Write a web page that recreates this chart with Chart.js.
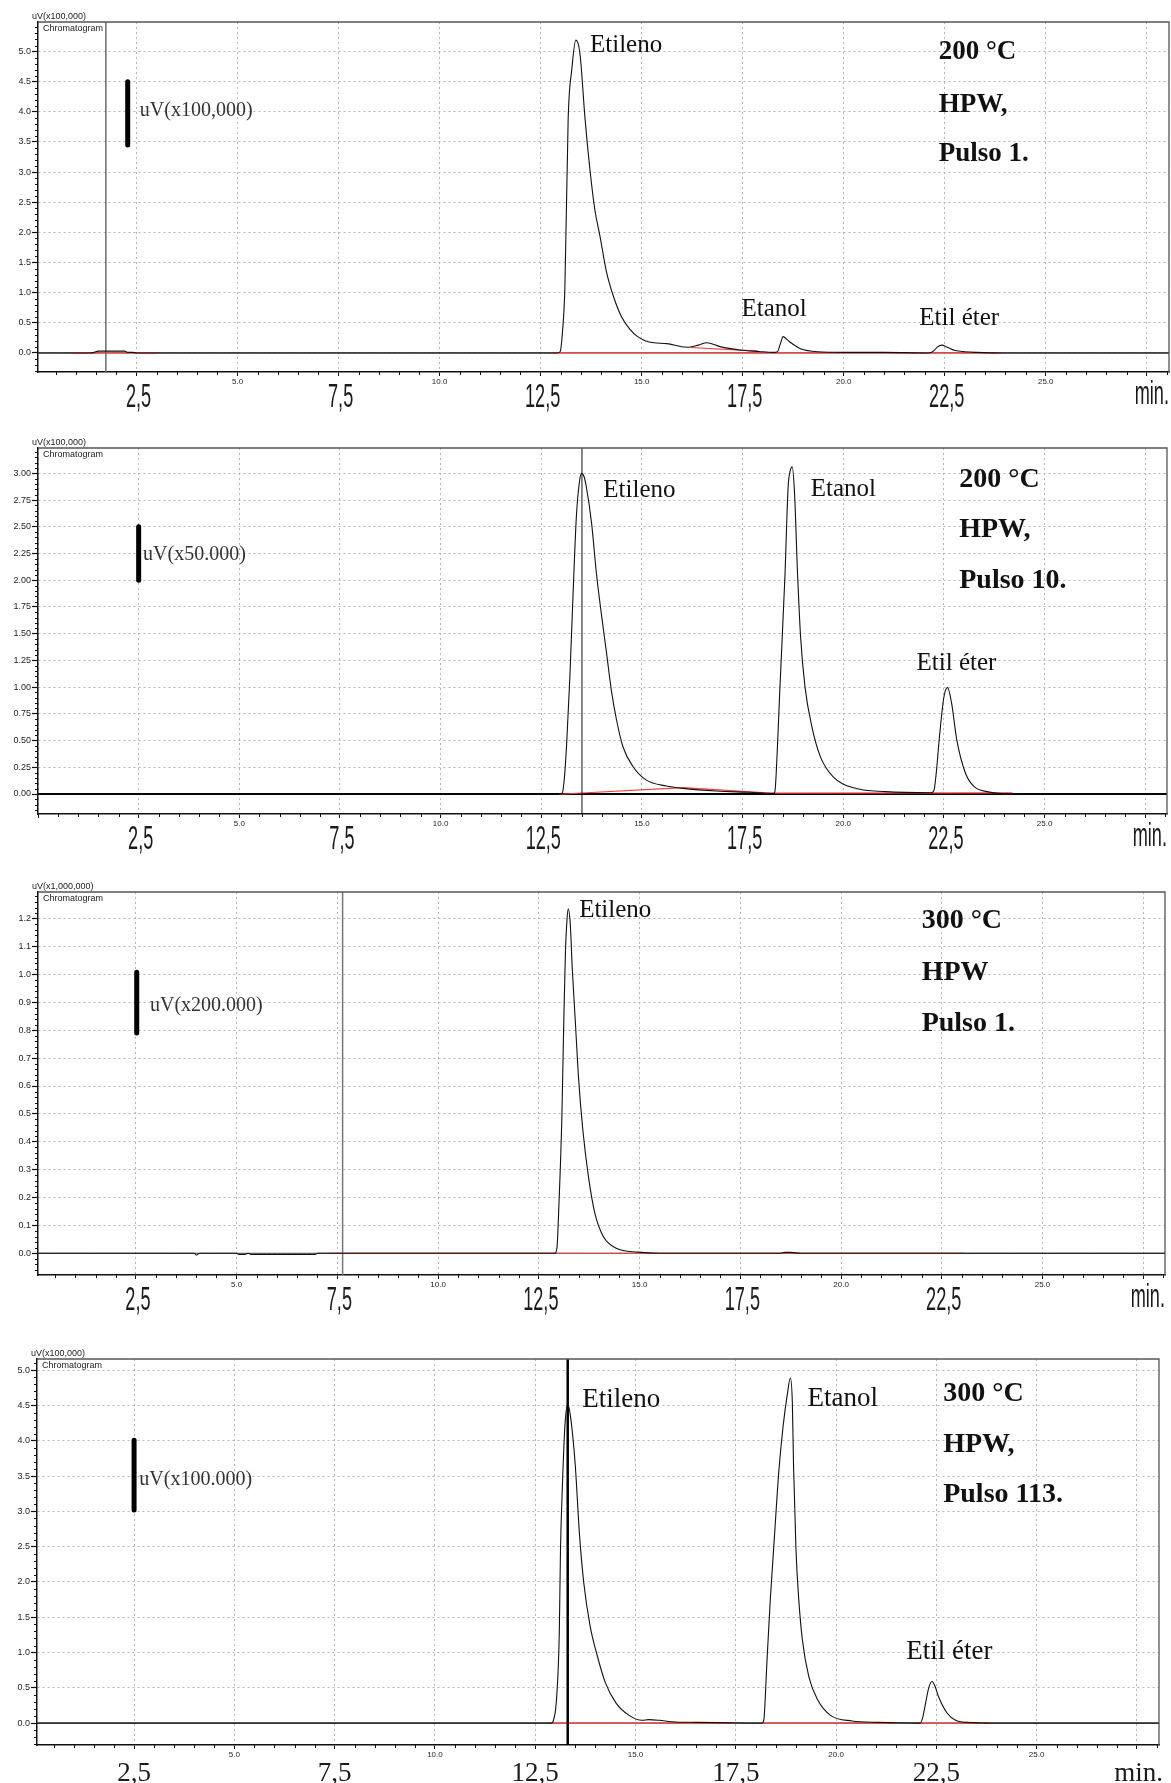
<!DOCTYPE html>
<html>
<head>
<meta charset="utf-8">
<script src="https://cdn.jsdelivr.net/npm/chart.js@4.4.1/dist/chart.umd.min.js"></script>
<style>
html,body{margin:0;padding:0;background:#fff;}
body{width:1171px;height:1783px;position:relative;overflow:hidden;}
canvas{position:absolute;left:0;}
</style>
</head>
<body>
<canvas id="c1" width="1171" height="420" style="top:0px"></canvas>
<canvas id="c2" width="1171" height="445" style="top:425px"></canvas>
<canvas id="c3" width="1171" height="455" style="top:868px"></canvas>
<canvas id="c4" width="1171" height="453" style="top:1330px"></canvas>
<script>
// ---------- shared tick labels ----------
const smallTickValues = [5, 10, 15, 20, 25];
const smallTickLabels = ['5.0', '10.0', '15.0', '20.0', '25.0'];
const bigTickValues = [2.5, 7.5, 12.5, 17.5, 22.5];
const bigTickLabels = ['2,5', '7,5', '12,5', '17,5', '22,5'];
const timeUnit = 'min.';
const peakNames = ['Etileno', 'Etanol', 'Etil éter'];

// ---------- Panel 1 : 200 °C, HPW, Pulso 1 ----------
const p1Unit = 'uV(x100,000)';
const p1Scale = 'uV(x100,000)';
const p1Conditions = ['200 °C', 'HPW,', 'Pulso 1.'];
const p1Time = [0.06, 1.35, 1.45, 1.55, 2.2, 2.28, 2.4, 2.5, 12.9, 12.98, 13.04, 13.1, 13.18, 13.27, 13.37, 13.47, 13.6, 13.72, 13.84, 13.97, 14.13, 14.3, 14.5, 14.7, 14.9, 15.1, 15.3, 15.62, 16.11, 16.4, 16.61, 16.94, 17.43, 17.9, 18.26, 18.36, 18.43, 18.5, 18.6, 18.71, 18.93, 19.35, 20.0, 21.0, 22.1, 22.22, 22.32, 22.43, 22.55, 22.76, 23.0, 23.28, 24.0, 28.05];
const p1Signal = [0, 0, 0.01, 0.03, 0.03, 0.01, 0.01, 0, 0, 0.02, 0.35, 1.1, 3.87, 4.7, 5.19, 4.98, 3.87, 3.04, 2.38, 1.93, 1.34, 0.94, 0.6, 0.4, 0.27, 0.2, 0.17, 0.155, 0.095, 0.13, 0.17, 0.105, 0.05, 0.025, 0.01, 0.02, 0.15, 0.27, 0.22, 0.16, 0.07, 0.02, 0.01, 0.01, 0.0, 0.03, 0.1, 0.13, 0.1, 0.04, 0.02, 0.01, 0, 0];
const p1BaseTime = [0.89, 3.0, 3.0, 12.8, 23.9, 23.9, 16.22, 17.87];
const p1BaseSignal = [0, 0, null, 0, 0, null, 0.09, 0.03];
const p1Marker = 1.74;

// ---------- Panel 2 : 200 °C, HPW, Pulso 10 ----------
const p2Unit = 'uV(x100,000)';
const p2Scale = 'uV(x50.000)';
const p2Conditions = ['200 °C', 'HPW,', 'Pulso 10.'];
const p2Time = [0.0, 12.98, 13.03, 13.08, 13.13, 13.21, 13.29, 13.37, 13.44, 13.5, 13.56, 13.62, 13.75, 13.87, 13.99, 14.12, 14.24, 14.37, 14.53, 14.78, 15.11, 15.61, 16.02, 16.85, 17.68, 18.26, 18.3, 18.36, 18.42, 18.55, 18.63, 18.68, 18.73, 18.79, 18.86, 18.94, 19.05, 19.22, 19.43, 19.75, 20.3, 21.05, 22.18, 22.25, 22.31, 22.39, 22.5, 22.59, 22.69, 22.82, 23.04, 23.25, 23.57, 24.2, 28.04];
const p2Signal = [0, 0, 0.02, 0.18, 0.47, 1.1, 1.88, 2.59, 2.9, 3.0, 2.97, 2.87, 2.53, 2.06, 1.69, 1.32, 0.97, 0.69, 0.44, 0.255, 0.13, 0.075, 0.053, 0.028, 0.016, 0.006, 0.02, 0.4, 0.94, 2.03, 2.87, 3.02, 3.06, 2.81, 2.1, 1.47, 1.0, 0.63, 0.35, 0.16, 0.053, 0.022, 0.012, 0.03, 0.2, 0.54, 0.91, 0.995, 0.85, 0.505, 0.19, 0.069, 0.022, 0, 0];
const p2BaseTime = [12.95, 13.05, 16.02, 18.28, 18.28, 18.3, 24.2];
const p2BaseSignal = [0, 0, 0.06, 0.006, null, 0.008, 0.01];
const p2Marker = 13.51;

// ---------- Panel 3 : 300 °C, HPW, Pulso 1 ----------
const p3Unit = 'uV(x1,000,000)';
const p3Scale = 'uV(x200.000)';
const p3Conditions = ['300 °C', 'HPW', 'Pulso 1.'];
const p3Time = [0.07, 3.95, 4.0, 4.08, 5.0, 5.05, 5.2, 5.3, 5.35, 6.95, 7.0, 12.9, 12.95, 13.0, 13.07, 13.12, 13.16, 13.2, 13.23, 13.28, 13.33, 13.41, 13.48, 13.59, 13.73, 13.89, 14.1, 14.42, 14.96, 15.5, 18.5, 18.6, 18.75, 19.0, 28.04];
const p3Signal = [0, 0, -0.006, 0, 0, -0.004, -0.004, 0, -0.004, -0.004, 0, 0, 0.02, 0.18, 0.48, 0.84, 1.08, 1.2, 1.236, 1.18, 1.02, 0.82, 0.64, 0.445, 0.276, 0.144, 0.06, 0.018, 0.004, 0, 0, 0.003, 0.003, 0, 0];
const p3BaseTime = [7.3, 23.04];
const p3BaseSignal = [0, 0];
const p3Marker = 7.63;

// ---------- Panel 4 : 300 °C, HPW, Pulso 113 ----------
const p4Unit = 'uV(x100,000)';
const p4Scale = 'uV(x100.000)';
const p4Conditions = ['300 °C', 'HPW,', 'Pulso 113.'];
const p4Time = [0.08, 12.9, 12.96, 13.03, 13.1, 13.13, 13.18, 13.24, 13.31, 13.39, 13.5, 13.6, 13.71, 13.87, 14.03, 14.25, 14.52, 14.84, 15.16, 15.33, 15.6, 15.9, 16.55, 18.15, 18.2, 18.27, 18.36, 18.47, 18.57, 18.68, 18.79, 18.86, 18.91, 18.94, 19.0, 19.07, 19.16, 19.32, 19.54, 19.86, 20.4, 21.04, 22.1, 22.16, 22.23, 22.31, 22.39, 22.47, 22.55, 22.77, 22.98, 23.25, 24.0, 28.05];
const p4Signal = [0, 0, 0.05, 0.33, 1.28, 2.46, 3.4, 4.21, 4.52, 4.3, 3.64, 2.7, 1.99, 1.37, 0.99, 0.57, 0.28, 0.11, 0.04, 0.05, 0.04, 0.02, 0.01, 0, 0.05, 0.8, 1.75, 2.7, 3.55, 4.21, 4.68, 4.89, 4.54, 3.64, 2.46, 1.75, 1.18, 0.66, 0.33, 0.11, 0.03, 0.01, 0, 0.08, 0.28, 0.5, 0.59, 0.52, 0.38, 0.14, 0.04, 0.01, 0, 0];
const p4BaseTime = [12.84, 17.4, 17.4, 18.15, 21.5, 21.5, 21.95, 23.82];
const p4BaseSignal = [0, 0, null, 0, 0, null, 0, 0];
const p4Marker = 13.31;

// ---------- layout / style configuration ----------
const SANS = "'Liberation Sans', Arial, sans-serif";
const SERIF = "'Liberation Serif', 'Times New Roman', serif";

const panels = [
  { id: 'c1', height: 420, area: { left: 38, top: 22, right: 1169, bottom: 372 },
    xMin: 0.06, xMax: 28.05, yMin: -0.316, yMax: 5.49, yStep: 0.5, yMinor: 0.1, yDec: 1,
    unit: p1Unit, time: p1Time, signal: p1Signal, baseTime: p1BaseTime, baseSignal: p1BaseSignal,
    marker: { x: p1Marker, color: '#6a6a6a', width: 1.5 }, zero: { color: '#555', width: 1.2 },
    bigStyle: 'condensed', minRight: 0,
    peaks: [{ i: 0, x: 13.72, y: 5.0 }, { i: 1, x: 17.47, y: 0.61 }, { i: 2, x: 21.87, y: 0.47 }],
    peakSize: 25,
    cond: p1Conditions, condX: 22.35, condY: [4.87, 4.0, 3.18], condSize: 27,
    bar: { x: 2.28, y0: 3.45, y1: 4.5, label: p1Scale, lx: 2.58, ly: 4.01 } },
  { id: 'c2', height: 445, area: { left: 38, top: 23, right: 1167, bottom: 389 },
    xMin: 0.0, xMax: 28.04, yMin: -0.187, yMax: 3.237, yStep: 0.25, yMinor: 0.05, yDec: 2,
    unit: p2Unit, time: p2Time, signal: p2Signal, baseTime: p2BaseTime, baseSignal: p2BaseSignal,
    marker: { x: p2Marker, color: '#111', width: 1 }, zero: { color: '#000', width: 2 },
    bigStyle: 'condensed', minRight: 0,
    peaks: [{ i: 0, x: 14.04, y: 2.775 }, { i: 1, x: 19.19, y: 2.79 }, { i: 2, x: 21.82, y: 1.16 }],
    peakSize: 25,
    cond: p2Conditions, condX: 22.88, condY: [2.875, 2.407, 1.93], condSize: 28,
    bar: { x: 2.5, y0: 2.0, y1: 2.5, label: p2Scale, lx: 2.61, ly: 2.236 } },
  { id: 'c3', height: 455, area: { left: 38, top: 24, right: 1165, bottom: 407 },
    xMin: 0.07, xMax: 28.04, yMin: -0.078, yMax: 1.296, yStep: 0.1, yMinor: 0.02, yDec: 1,
    unit: p3Unit, time: p3Time, signal: p3Signal, baseTime: p3BaseTime, baseSignal: p3BaseSignal,
    marker: { x: p3Marker, color: '#777', width: 1.5 }, zero: { color: '#555', width: 1.2 },
    bigStyle: 'condensed', minRight: 0,
    peaks: [{ i: 0, x: 13.5, y: 1.208 }],
    peakSize: 25,
    cond: p3Conditions, condX: 22.0, condY: [1.166, 0.98, 0.796], condSize: 28,
    bar: { x: 2.52, y0: 0.79, y1: 1.008, label: p3Scale, lx: 2.85, ly: 0.887 } },
  { id: 'c4', height: 453, area: { left: 37, top: 29, right: 1159, bottom: 415 },
    xMin: 0.08, xMax: 28.05, yMin: -0.31, yMax: 5.16, yStep: 0.5, yMinor: 0.1, yDec: 1,
    unit: p4Unit, time: p4Time, signal: p4Signal, baseTime: p4BaseTime, baseSignal: p4BaseSignal,
    marker: { x: p4Marker, color: '#000', width: 2.5 }, zero: { color: '#777', width: 1.5 },
    bigStyle: 'serif', minRight: 4,
    peaks: [{ i: 0, x: 13.67, y: 4.48 }, { i: 1, x: 19.29, y: 4.5 }, { i: 2, x: 21.75, y: 0.91 }],
    peakSize: 27,
    cond: p4Conditions, condX: 22.67, condY: [4.56, 3.84, 3.13], condSize: 28,
    bar: { x: 2.5, y0: 3.02, y1: 4.01, label: p4Scale, lx: 2.63, ly: 3.45 } }
];

function pts(xs, ys) { return xs.map((x, i) => ({ x: x, y: ys[i] })); }

const extras = {
  id: 'extras',
  afterDraw(chart, args, opts) {
    const cfg = opts.cfg;
    const ctx = chart.ctx, a = chart.chartArea;
    const xs = chart.scales.x, ys = chart.scales.y;
    ctx.save();
    // frame (top + right)
    ctx.strokeStyle = '#555'; ctx.lineWidth = 1.3;
    ctx.beginPath();
    ctx.moveTo(a.left, a.top); ctx.lineTo(a.right, a.top); ctx.lineTo(a.right, a.bottom);
    ctx.stroke();
    // minor ticks
    ctx.strokeStyle = '#111'; ctx.lineWidth = 1;
    ctx.beginPath();
    for (let k = Math.ceil(cfg.xMin / 0.5); k * 0.5 <= cfg.xMax; k++) {
      if (k % 5 === 0) continue;
      const px = Math.round(xs.getPixelForValue(k * 0.5)) + 0.5;
      ctx.moveTo(px, a.bottom); ctx.lineTo(px, a.bottom + 3);
    }
    const nMinor = Math.round(cfg.yStep / cfg.yMinor);
    for (let k = Math.ceil(cfg.yMin / cfg.yMinor); k * cfg.yMinor <= cfg.yMax; k++) {
      if (k % nMinor === 0) continue;
      const py = Math.round(ys.getPixelForValue(k * cfg.yMinor)) + 0.5;
      ctx.moveTo(a.left - 3, py); ctx.lineTo(a.left, py);
    }
    ctx.stroke();
    // unit label and title
    ctx.fillStyle = '#222';
    ctx.font = '9px ' + SANS;
    ctx.textAlign = 'left'; ctx.textBaseline = 'alphabetic';
    ctx.fillText(cfg.unit, a.left - 6, a.top - 3);
    ctx.fillText('Chromatogram', a.left + 5, a.top + 9);
    // big x labels
    ctx.fillStyle = '#1a1a1a';
    const base = a.bottom + 35;
    if (cfg.bigStyle === 'condensed') {
      ctx.font = '33px ' + SANS;
      ctx.textAlign = 'center';
      bigTickValues.forEach((v, i) => {
        const px = xs.getPixelForValue(v) + 2;
        ctx.save(); ctx.translate(px, base); ctx.scale(0.55, 1);
        ctx.fillText(bigTickLabels[i], 0, 0); ctx.restore();
      });
      ctx.save(); ctx.translate(a.right + cfg.minRight, base - 3); ctx.scale(0.55, 1);
      ctx.textAlign = 'right'; ctx.fillText(timeUnit, 0, 0); ctx.restore();
    } else {
      ctx.font = '27px ' + SERIF;
      ctx.textAlign = 'center';
      bigTickValues.forEach((v, i) => {
        ctx.fillText(bigTickLabels[i], xs.getPixelForValue(v), base + 1);
      });
      ctx.textAlign = 'right';
      ctx.fillText(timeUnit, a.right + cfg.minRight, base + 1);
    }
    // peak names
    ctx.fillStyle = '#111';
    ctx.textAlign = 'left'; ctx.textBaseline = 'alphabetic';
    ctx.font = cfg.peakSize + 'px ' + SERIF;
    cfg.peaks.forEach(p => {
      ctx.fillText(peakNames[p.i], xs.getPixelForValue(p.x), ys.getPixelForValue(p.y));
    });
    // conditions
    ctx.font = 'bold ' + cfg.condSize + 'px ' + SERIF;
    cfg.cond.forEach((t, i) => {
      ctx.fillText(t, xs.getPixelForValue(cfg.condX), ys.getPixelForValue(cfg.condY[i]));
    });
    // scale bar label
    ctx.font = '20px ' + SERIF;
    ctx.textBaseline = 'middle';
    ctx.fillStyle = '#333';
    ctx.fillText(cfg.bar.label, xs.getPixelForValue(cfg.bar.lx), ys.getPixelForValue(cfg.bar.ly));
    ctx.restore();
  }
};

function build(cfg) {
  const canvas = document.getElementById(cfg.id);
  const datasets = [
    { data: pts(cfg.time, cfg.signal), borderColor: '#111', borderWidth: 1.1,
      cubicInterpolationMode: 'monotone' },
    { data: pts([cfg.bar.x, cfg.bar.x], [cfg.bar.y0, cfg.bar.y1]), borderColor: '#000', borderWidth: 5,
      borderCapStyle: 'round', clip: false },
    { data: pts([cfg.marker.x, cfg.marker.x], [cfg.yMin, cfg.yMax]), borderColor: cfg.marker.color,
      borderWidth: cfg.marker.width },
    { data: pts(cfg.baseTime, cfg.baseSignal), borderColor: '#ff3b3b', borderWidth: 1.2, spanGaps: false },
    { data: pts([cfg.xMin, cfg.xMax], [0, 0]), borderColor: cfg.zero.color, borderWidth: cfg.zero.width }
  ];
  datasets.forEach(d => { d.showLine = true; d.pointRadius = 0; d.fill = false; });
  return new Chart(canvas, {
    type: 'scatter',
    data: { datasets: datasets },
    options: {
      responsive: false,
      animation: false,
      events: [],
      layout: { padding: { left: 0, top: cfg.area.top, right: 1171 - cfg.area.right, bottom: 0 } },
      plugins: { legend: { display: false }, tooltip: { enabled: false }, extras: { cfg: cfg } },
      scales: {
        x: {
          type: 'linear', min: cfg.xMin, max: cfg.xMax,
          afterFit: s => { s.height = cfg.height - cfg.area.bottom; },
          ticks: {
            stepSize: 2.5, includeBounds: false, autoSkip: false, maxRotation: 0, minRotation: 0,
            padding: 1, color: '#222', font: { family: SANS, size: 8 },
            callback: v => {
              const i = smallTickValues.findIndex(t => Math.abs(t - v) < 1e-6);
              return i >= 0 ? smallTickLabels[i] : '';
            }
          },
          grid: { color: '#b5b5b5', lineWidth: 1, drawTicks: true, tickLength: 4, tickColor: '#111', tickWidth: 1 },
          border: { display: true, color: '#111', width: 1.5, dash: [2, 3] }
        },
        y: {
          type: 'linear', min: cfg.yMin, max: cfg.yMax,
          afterFit: s => { s.width = cfg.area.left; },
          ticks: {
            stepSize: cfg.yStep, includeBounds: false, autoSkip: false,
            padding: 1, color: '#222', font: { family: SANS, size: 9 },
            callback: v => Number(v).toFixed(cfg.yDec)
          },
          grid: { color: '#b5b5b5', lineWidth: 1, drawTicks: true, tickLength: 6, tickColor: '#111', tickWidth: 1.2 },
          border: { display: true, color: '#111', width: 1.5, dash: [2, 3] }
        }
      }
    },
    plugins: [extras]
  });
}

panels.forEach(build);
</script>
</body>
</html>
